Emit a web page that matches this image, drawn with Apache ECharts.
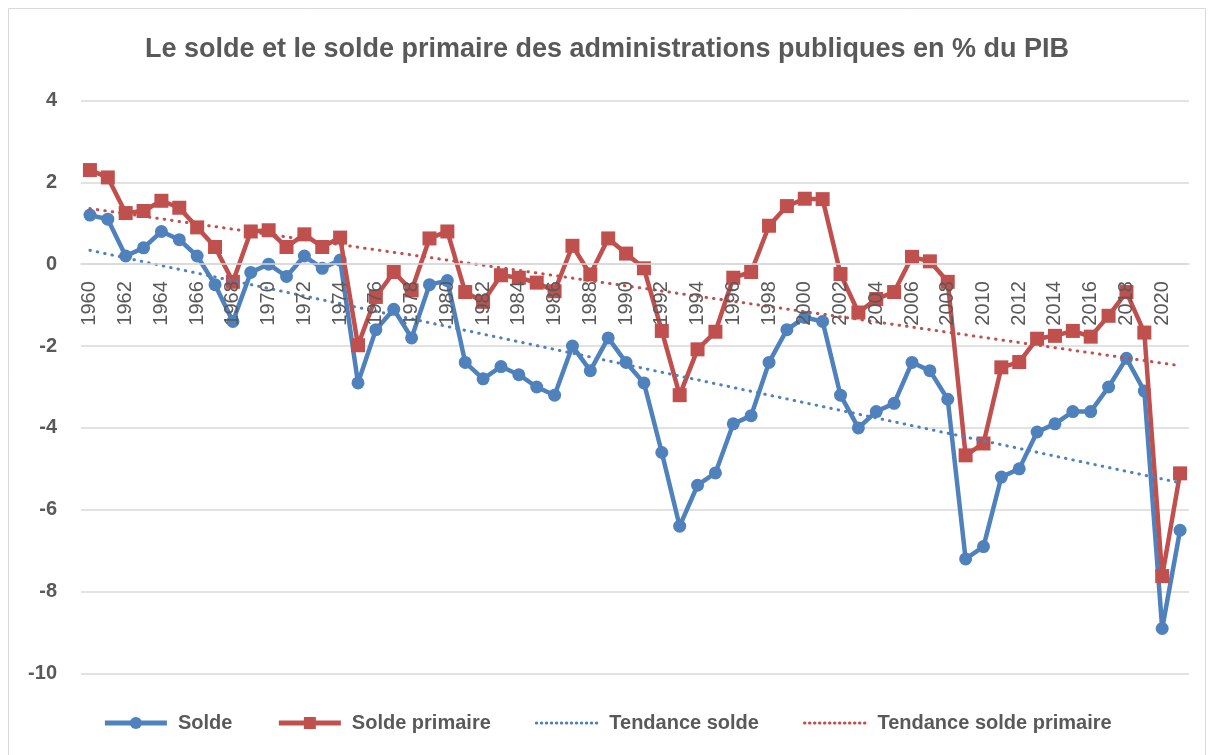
<!DOCTYPE html>
<html>
<head>
    <meta charset="utf-8">
    <title>Solde public</title>
    <script src="https://cdn.jsdelivr.net/npm/echarts@6/dist/echarts.min.js"></script>
    <style>
        html, body { margin: 0; padding: 0; background: #fff; }
    </style>
</head>
<body>
    <div id="main" style="width: 1214px;height:755px;"></div>
    <script type="text/javascript">

// years on the category axis
var years = [
    '1960', '1961', '1962', '1963', '1964', '1965', '1966', '1967', '1968', '1969',
    '1970', '1971', '1972', '1973', '1974', '1975', '1976', '1977', '1978', '1979',
    '1980', '1981', '1982', '1983', '1984', '1985', '1986', '1987', '1988', '1989',
    '1990', '1991', '1992', '1993', '1994', '1995', '1996', '1997', '1998', '1999',
    '2000', '2001', '2002', '2003', '2004', '2005', '2006', '2007', '2008', '2009',
    '2010', '2011', '2012', '2013', '2014', '2015', '2016', '2017', '2018', '2019',
    '2020', '2021'
];

// solde, % du PIB
var solde = [
    1.2, 1.1, 0.2, 0.4, 0.8, 0.6, 0.2, -0.5, -1.4, -0.2,
    0.0, -0.3, 0.2, -0.1, 0.1, -2.9, -1.6, -1.1, -1.8, -0.5,
    -0.4, -2.4, -2.8, -2.5, -2.7, -3.0, -3.2, -2.0, -2.6, -1.8,
    -2.4, -2.9, -4.6, -6.4, -5.4, -5.1, -3.9, -3.7, -2.4, -1.6,
    -1.3, -1.4, -3.2, -4.0, -3.6, -3.4, -2.4, -2.6, -3.3, -7.2,
    -6.9, -5.2, -5.0, -4.1, -3.9, -3.6, -3.6, -3.0, -2.3, -3.1,
    -8.9, -6.5
];

// solde primaire, % du PIB
var soldePrimaire = [
    2.3, 2.12, 1.25, 1.3, 1.55, 1.38, 0.9, 0.42, -0.43, 0.8,
    0.83, 0.42, 0.73, 0.42, 0.65, -1.98, -0.8, -0.19, -0.64, 0.63,
    0.8, -0.68, -0.92, -0.27, -0.33, -0.45, -0.66, 0.45, -0.25, 0.63,
    0.26, -0.1, -1.63, -3.2, -2.08, -1.65, -0.33, -0.19, 0.94, 1.42,
    1.6, 1.59, -0.24, -1.18, -0.85, -0.68, 0.18, 0.07, -0.43, -4.67,
    -4.38, -2.52, -2.39, -1.82, -1.75, -1.63, -1.77, -1.26, -0.68, -1.67,
    -7.62, -5.11
];

// linear trend lines, value at first and last year
var tendanceSolde = [0.34, -5.34];
var tendancePrimaire = [1.36, -2.48];

var yTicks = { min: -10, max: 4, interval: 2 };

var blue = '#4F81BD';
var red = '#C0504D';
var grey = '#595959';
var font = '"Liberation Sans", Arial, sans-serif';

var gridTop = 100.5, gridBottom = 81.5;
var plotHeight = 755 - gridTop - gridBottom;
// category labels sit on the zero line, like in Excel
var zeroOffset = -plotHeight * (0 - yTicks.min) / (yTicks.max - yTicks.min);

function endPoints(pair) {
    var out = [];
    for (var i = 0; i < years.length; i++) {
        out.push(null);
    }
    out[0] = pair[0];
    out[years.length - 1] = pair[1];
    return out;
}

var myChart = echarts.init(document.getElementById('main'));

var option = {
    animation: false,
    backgroundColor: '#fff',
    textStyle: { fontFamily: font },
    title: {
        text: 'Le solde et le solde primaire des administrations publiques en % du PIB',
        left: 'center',
        top: 31,
        textStyle: {
            fontFamily: font,
            fontSize: 27,
            fontWeight: 'bold',
            color: grey
        }
    },
    graphic: [{
        type: 'rect',
        shape: { x: 8.5, y: 8.5, width: 1197, height: 760 },
        style: { fill: null, stroke: '#d9d9d9', lineWidth: 1 },
        silent: true
    }],
    legend: {
        bottom: 17,
        left: 'center',
        itemGap: 44,
        itemWidth: 62,
        itemHeight: 15,
        textStyle: {
            fontFamily: font,
            fontSize: 20,
            fontWeight: 'bold',
            color: grey,
            padding: [0, 0, 0, 6]
        },
        data: [
            { name: 'Solde', lineStyle: { width: 5 } },
            { name: 'Solde primaire', lineStyle: { width: 5 } },
            { name: 'Tendance solde', itemStyle: { opacity: 0 }, lineStyle: { width: 3, type: [0.5, 4.5] } },
            { name: 'Tendance solde primaire', itemStyle: { opacity: 0 }, lineStyle: { width: 3, type: [0.5, 4.5] } }
        ]
    },
    grid: {
        left: 81,
        right: 25,
        top: gridTop,
        bottom: gridBottom
    },
    xAxis: {
        type: 'category',
        data: years,
        boundaryGap: true,
        offset: zeroOffset,
        z: 10,
        axisLine: { onZero: false, lineStyle: { color: '#d9d9d9', width: 1.5 } },
        axisTick: { show: false },
        axisLabel: {
            interval: 1,
            rotate: 90,
            margin: 17,
            fontFamily: font,
            fontSize: 20,
            color: grey
        }
    },
    yAxis: {
        type: 'value',
        min: yTicks.min,
        max: yTicks.max,
        interval: yTicks.interval,
        axisLine: { show: false },
        axisTick: { show: false },
        splitLine: { lineStyle: { color: '#d9d9d9', width: 1.5 } },
        axisLabel: {
            margin: 24,
            fontFamily: font,
            fontSize: 20,
            fontWeight: 'bold',
            color: grey
        }
    },
    series: [
        {
            name: 'Solde',
            type: 'line',
            data: solde,
            symbol: 'circle',
            symbolSize: 13,
            showAllSymbol: true,
            itemStyle: { color: blue },
            lineStyle: { color: blue, width: 4.5 },
            z: 2
        },
        {
            name: 'Solde primaire',
            type: 'line',
            data: soldePrimaire,
            symbol: 'rect',
            symbolSize: 14,
            showAllSymbol: true,
            itemStyle: { color: red },
            lineStyle: { color: red, width: 4.5 },
            z: 3
        },
        {
            name: 'Tendance solde',
            type: 'line',
            data: endPoints(tendanceSolde),
            connectNulls: true,
            symbol: 'none',
            itemStyle: { color: blue },
            lineStyle: { color: blue, width: 3, type: [0.5, 7], cap: 'round' },
            z: 4
        },
        {
            name: 'Tendance solde primaire',
            type: 'line',
            data: endPoints(tendancePrimaire),
            connectNulls: true,
            symbol: 'none',
            itemStyle: { color: red },
            lineStyle: { color: red, width: 3, type: [0.5, 7], cap: 'round' },
            z: 4
        }
    ]
};

myChart.setOption(option);
    </script>
</body>
</html>
